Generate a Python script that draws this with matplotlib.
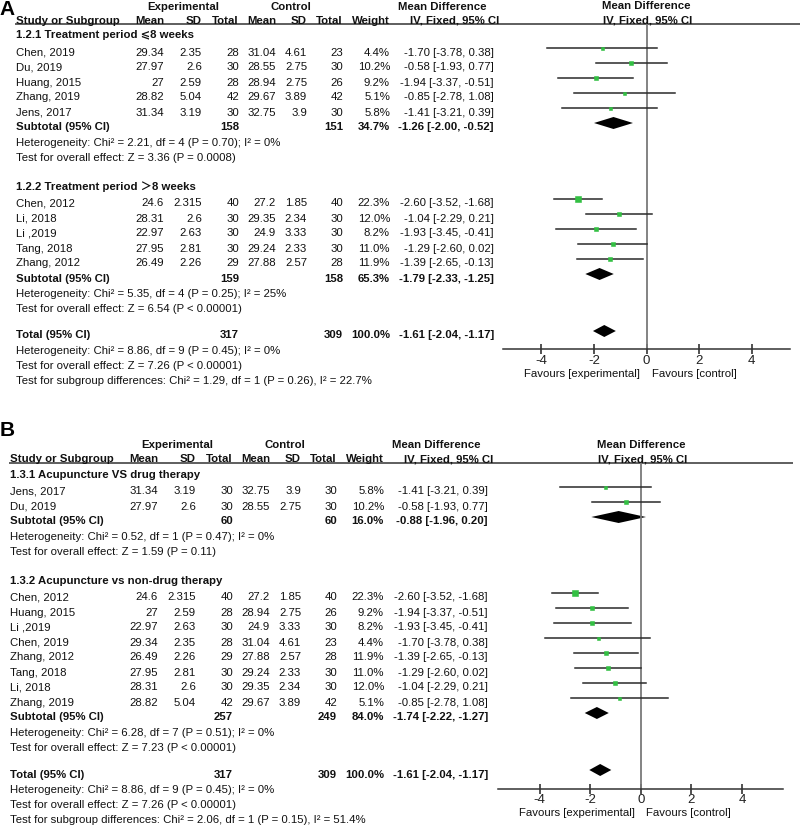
import matplotlib.pyplot as plt
from matplotlib.patches import Polygon

plt.rcParams['font.family'] = ['Liberation Sans', 'DejaVu Sans', 'Noto Sans CJK SC']
plt.rcParams['axes.unicode_minus'] = False

# ---- study level data (10 trials) ----
study = ["Chen, 2019", "Du, 2019", "Huang, 2015", "Zhang, 2019", "Jens, 2017",
         "Chen, 2012", "Li, 2018", "Li ,2019", "Tang, 2018", "Zhang, 2012"]
exp_mean = [29.34, 27.97, 27, 28.82, 31.34, 24.6, 28.31, 22.97, 27.95, 26.49]
exp_sd = [2.35, 2.6, 2.59, 5.04, 3.19, 2.315, 2.6, 2.63, 2.81, 2.26]
exp_n = [28, 30, 28, 42, 30, 40, 30, 30, 30, 29]
ctl_mean = [31.04, 28.55, 28.94, 29.67, 32.75, 27.2, 29.35, 24.9, 29.24, 27.88]
ctl_sd = [4.61, 2.75, 2.75, 3.89, 3.9, 1.85, 2.34, 3.33, 2.33, 2.57]
ctl_n = [23, 30, 26, 42, 30, 40, 30, 30, 30, 28]
weight = [4.4, 10.2, 9.2, 5.1, 5.8, 22.3, 12.0, 8.2, 11.0, 11.9]
md = [-1.70, -0.58, -1.94, -0.85, -1.41, -2.60, -1.04, -1.93, -1.29, -1.39]
ci_lo = [-3.78, -1.93, -3.37, -2.78, -3.21, -3.52, -2.29, -3.45, -2.60, -2.65]
ci_hi = [0.38, 0.77, -0.51, 1.08, 0.39, -1.68, 0.21, -0.41, 0.02, -0.13]

# ---- panel A: by treatment period ----
groups_a = [[0, 1, 2, 3, 4], [5, 6, 7, 8, 9]]
titles_a = ["1.2.1 Treatment period \u2a7d8 weeks", "1.2.2 Treatment period \uff1e8 weeks"]
sub_exp_n_a = [158, 159]
sub_ctl_n_a = [151, 158]
sub_weight_a = [34.7, 65.3]
sub_md_a = [-1.26, -1.79]
sub_lo_a = [-2.00, -2.33]
sub_hi_a = [-0.52, -1.25]
sub_het_a = ["Chi\u00b2 = 2.21, df = 4 (P = 0.70); I\u00b2 = 0%",
             "Chi\u00b2 = 5.35, df = 4 (P = 0.25); I\u00b2 = 25%"]
sub_z_a = ["Z = 3.36 (P = 0.0008)", "Z = 6.54 (P < 0.00001)"]
diff_a = "Chi\u00b2 = 1.29, df = 1 (P = 0.26), I\u00b2 = 22.7%"

# ---- panel B: by type of control ----
groups_b = [[4, 1], [5, 2, 7, 0, 9, 8, 6, 3]]
titles_b = ["1.3.1 Acupuncture VS drug therapy", "1.3.2 Acupuncture vs non-drug therapy"]
sub_exp_n_b = [60, 257]
sub_ctl_n_b = [60, 249]
sub_weight_b = [16.0, 84.0]
sub_md_b = [-0.88, -1.74]
sub_lo_b = [-1.96, -2.22]
sub_hi_b = [0.20, -1.27]
sub_het_b = ["Chi\u00b2 = 0.52, df = 1 (P = 0.47); I\u00b2 = 0%",
             "Chi\u00b2 = 6.28, df = 7 (P = 0.51); I\u00b2 = 0%"]
sub_z_b = ["Z = 1.59 (P = 0.11)", "Z = 7.23 (P < 0.00001)"]
diff_b = "Chi\u00b2 = 2.06, df = 1 (P = 0.15), I\u00b2 = 51.4%"

# ---- overall ----
tot_exp_n, tot_ctl_n = 317, 309
tot_md, tot_lo, tot_hi = -1.61, -2.04, -1.17
tot_het = "Chi\u00b2 = 8.86, df = 9 (P = 0.45); I\u00b2 = 0%"
tot_z = "Z = 7.26 (P < 0.00001)"
ticks = [-4, -2, 0, 2, 4]

W, H = 800, 827
INK = '#111111'
GREEN = '#33c043'
FS = 8.2

fig = plt.figure(figsize=(W / 100, H / 100), dpi=100)
base = fig.add_axes([0, 0, 1, 1])
base.set_xlim(0, W)
base.set_ylim(H, 0)
base.axis('off')


def put(x, y, s, ha='left', bold=False, size=FS):
    base.text(x, y + 1, s, ha=ha, va='center', fontsize=size, color=INK,
              fontweight='bold' if bold else 'normal')


def fmt(v):
    return f"{v:g}"


def ci_txt(m, lo, hi):
    return f"{m:.2f} [{lo:.2f}, {hi:.2f}]"


def panel(letter, letter_y, line_y, dx, ax_l, ax_r, xlim, groups, titles, s_en, s_cn, s_w,
          s_md, s_lo, s_hi, s_het, s_z, diff, line_end):
    col = {k: v + dx for k, v in dict(name=16, em=164, esd=202, en=239, cm=276,
                                         csd=307, cn=343, w=390, ci=494).items()}
    axis_y = line_y + 325.5
    fax = fig.add_axes([ax_l / W, 1 - axis_y / H, (ax_r - ax_l) / W, (axis_y - line_y) / H])
    fax.set_xlim(*xlim)
    fax.set_ylim(axis_y, line_y)
    fax.patch.set_visible(False)
    for s in ['top', 'left', 'right']:
        fax.spines[s].set_visible(False)
    fax.spines['bottom'].set_color('#333333')
    fax.spines['bottom'].set_linewidth(1.1)
    fax.set_yticks([])
    fax.set_xticks(ticks)
    fax.tick_params(axis='x', direction='inout', length=7, width=1.1, colors='#222222',
                    labelsize=9.5, pad=0.8)
    fax.axvline(0, color='#7a7a7a', lw=1.3)

    def diamond(y, m, lo, hi):
        fax.add_patch(Polygon([(lo, y), (m, y - 6), (hi, y), (m, y + 6)],
                              closed=True, color='black', lw=0))

    # headers
    base.text(-0.5, letter_y, letter, ha='left', va='top', fontsize=15,
              fontweight='bold', color='black')
    h1, h2 = line_y - 18.5, line_y - 4.5
    put(183 + dx, h1, "Experimental", ha='center', bold=True)
    put(291 + dx, h1, "Control", ha='center', bold=True)
    put(442 + dx, h1, "Mean Difference", ha='center', bold=True)
    put(col['name'], h2, "Study or Subgroup", bold=True)
    for k, s in [('em', 'Mean'), ('esd', 'SD'), ('en', 'Total'), ('cm', 'Mean'),
                 ('csd', 'SD'), ('cn', 'Total'), ('w', 'Weight')]:
        put(col[k], h2, s, ha='right', bold=True)
    put(col['ci'] + 5, h2, "IV, Fixed, 95% CI", ha='right', bold=True)
    fax.text(0, h1 + 1, "Mean Difference", ha='center', va='center', fontsize=FS,
             fontweight='bold', color=INK, clip_on=False)
    fax.text(0.05, h2 + 1, "IV, Fixed, 95% CI", ha='center', va='center', fontsize=FS,
             fontweight='bold', color=INK, clip_on=False)
    base.hlines(line_y, 15 + dx, line_end, color='#333333', lw=1.1)

    y = line_y + 10.5
    for g, idx in enumerate(groups):
        if g > 0:
            y += 28.5
        put(col['name'], y, titles[g], bold=True)
        y += 17
        for n, i in enumerate(idx):
            if n > 0:
                y += 15
            put(col['name'], y, study[i])
            put(col['em'], y, fmt(exp_mean[i]), ha='right')
            put(col['esd'], y, fmt(exp_sd[i]), ha='right')
            put(col['en'], y, str(exp_n[i]), ha='right')
            put(col['cm'], y, fmt(ctl_mean[i]), ha='right')
            put(col['csd'], y, fmt(ctl_sd[i]), ha='right')
            put(col['cn'], y, str(ctl_n[i]), ha='right')
            put(col['w'], y, f"{weight[i]:.1f}%", ha='right')
            put(col['ci'], y, ci_txt(md[i], ci_lo[i], ci_hi[i]), ha='right')
            ym = y - 3.5
            fax.plot([ci_lo[i], ci_hi[i]], [ym, ym], color='#2a2a2a', lw=1.1)
            side = max(3.0, 5.8 * (weight[i] / 22.3) ** 0.5)
            fax.plot([md[i]], [ym], marker='s', ms=side * 0.72, color=GREEN,
                     mec=GREEN, mew=0.4)
        y += 15
        put(col['name'], y, "Subtotal (95% CI)", bold=True)
        put(col['en'], y, str(s_en[g]), ha='right', bold=True)
        put(col['cn'], y, str(s_cn[g]), ha='right', bold=True)
        put(col['w'], y, f"{s_w[g]:.1f}%", ha='right', bold=True)
        put(col['ci'], y, ci_txt(s_md[g], s_lo[g], s_hi[g]), ha='right', bold=True)
        diamond(y - 3.5, s_md[g], s_lo[g], s_hi[g])
        y += 15.5
        put(col['name'], y, "Heterogeneity: " + s_het[g])
        y += 15
        put(col['name'], y, "Test for overall effect: " + s_z[g])

    y += 26.5
    put(col['name'], y, "Total (95% CI)", bold=True)
    put(col['en'], y, str(tot_exp_n), ha='right', bold=True)
    put(col['cn'], y, str(tot_ctl_n), ha='right', bold=True)
    put(col['w'], y, "100.0%", ha='right', bold=True)
    put(col['ci'], y, ci_txt(tot_md, tot_lo, tot_hi), ha='right', bold=True)
    diamond(y - 3.5, tot_md, tot_lo, tot_hi)
    y += 15.5
    put(col['name'], y, "Heterogeneity: " + tot_het)
    y += 15
    put(col['name'], y, "Test for overall effect: " + tot_z)
    y += 15
    put(col['name'], y, "Test for subgroup differences: " + diff)

    fax.text(-0.25, axis_y + 24.5, "Favours [experimental]", ha='right', va='center',
             fontsize=FS, color=INK, clip_on=False)
    fax.text(0.2, axis_y + 24.5, "Favours [control]", ha='left', va='center',
             fontsize=FS, color=INK, clip_on=False)


panel('A', 0, 24, 0, 503, 790, (-5.46, 5.45), groups_a, titles_a, sub_exp_n_a, sub_ctl_n_a,
      sub_weight_a, sub_md_a, sub_lo_a, sub_hi_a, sub_het_a, sub_z_a, diff_a, 800)
panel('B', 421, 463, -6, 498, 783, (-5.65, 5.62), groups_b, titles_b, sub_exp_n_b, sub_ctl_n_b,
      sub_weight_b, sub_md_b, sub_lo_b, sub_hi_b, sub_het_b, sub_z_b, diff_b, 793)

fig.savefig('out.png', dpi=100)
